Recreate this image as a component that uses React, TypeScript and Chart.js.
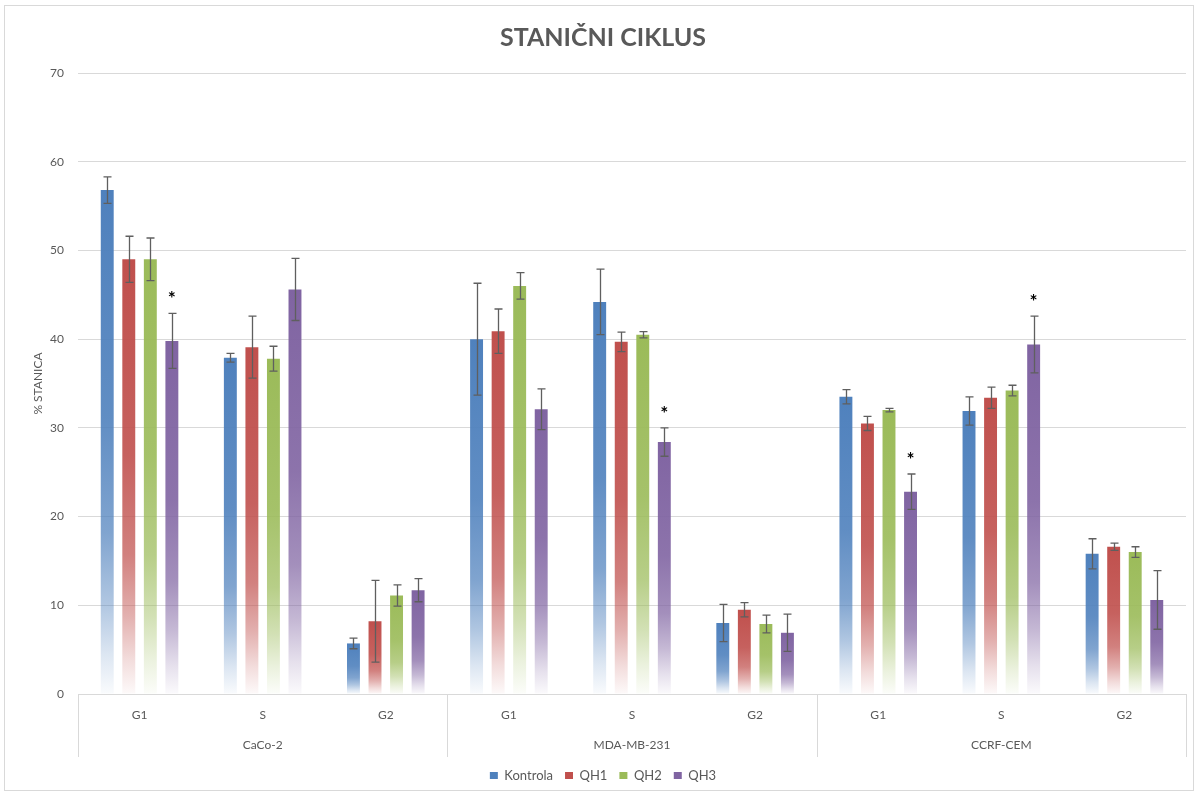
import React, { useEffect, useRef } from "react";
import { Chart, registerables } from "chart.js";

Chart.register(...registerables);

const groups = ["CaCo-2", "MDA-MB-231", "CCRF-CEM"];
const phases = ["G1", "S", "G2", "G1", "S", "G2", "G1", "S", "G2"];
const seriesNames = ["Kontrola", "QH1", "QH2", "QH3"];
const seriesColors = ["#4F81BD", "#C0504D", "#9BBB59", "#8064A2"];

const kontrola = [56.8, 37.9, 5.7, 40.0, 44.2, 8.0, 33.5, 31.9, 15.8];
const kontrolaErr = [1.5, 0.5, 0.6, 6.3, 3.7, 2.1, 0.8, 1.6, 1.7];
const qh1 = [49.0, 39.1, 8.2, 40.9, 39.7, 9.5, 30.5, 33.4, 16.6];
const qh1Err = [2.6, 3.5, 4.6, 2.5, 1.1, 0.8, 0.8, 1.2, 0.4];
const qh2 = [49.0, 37.8, 11.1, 46.0, 40.5, 7.9, 32.0, 34.2, 16.0];
const qh2Err = [2.4, 1.4, 1.2, 1.5, 0.35, 1.0, 0.2, 0.6, 0.6];
const qh3 = [39.8, 45.6, 11.7, 32.1, 28.4, 6.9, 22.8, 39.4, 10.6];
const qh3Err = [3.1, 3.5, 1.3, 2.3, 1.6, 2.1, 2.0, 3.2, 3.3];
const qh3Significant = [true, false, false, false, true, false, true, true, false];

const yTicks = [0, 10, 20, 30, 40, 50, 60, 70];

const values = [kontrola, qh1, qh2, qh3];
const errors = [kontrolaErr, qh1Err, qh2Err, qh3Err];
const significance = [null, null, null, qh3Significant];

const TEXT = "#595959";
const LINE = "#d9d9d9";
const FONT = "Lato, 'Open Sans', sans-serif";

function hexToRgb(hex: string) {
  const n = parseInt(hex.slice(1), 16);
  return [(n >> 16) & 255, (n >> 8) & 255, n & 255];
}

function gradientFill(color: string) {
  const [r, g, b] = hexToRgb(color);
  return (ctx: any) => {
    const chart = ctx.chart;
    const area = chart.chartArea;
    if (!area || ctx.type !== "data") return color;
    const y = chart.scales.y;
    const top = y.getPixelForValue(ctx.raw);
    const bottom = y.getPixelForValue(0);
    if (!isFinite(top) || !isFinite(bottom) || bottom - top < 1) return color;
    const gr = chart.ctx.createLinearGradient(0, top, 0, bottom);
    gr.addColorStop(0, `rgba(${r},${g},${b},1)`);
    gr.addColorStop(0.45, `rgba(${r},${g},${b},0.9)`);
    gr.addColorStop(0.68, `rgba(${r},${g},${b},0.72)`);
    gr.addColorStop(0.82, `rgba(${r},${g},${b},0.45)`);
    gr.addColorStop(0.92, `rgba(${r},${g},${b},0.2)`);
    gr.addColorStop(1, `rgba(${r},${g},${b},0.03)`);
    return gr;
  };
}

const decorPlugin = {
  id: "decor",
  beforeDraw(chart: any) {
    const c = chart.ctx;
    c.save();
    c.fillStyle = "#ffffff";
    c.fillRect(0, 0, chart.width, chart.height);
    c.restore();
  },
  afterDatasetsDraw(chart: any) {
    const c = chart.ctx;
    const y = chart.scales.y;
    c.save();
    chart.data.datasets.forEach((ds: any, di: number) => {
      const meta = chart.getDatasetMeta(di);
      const errs = errors[di];
      const sig = significance[di];
      meta.data.forEach((bar: any, i: number) => {
        const v = ds.data[i];
        const e = errs[i];
        const yTop = y.getPixelForValue(v + e);
        const yBot = y.getPixelForValue(v - e);
        const x = Math.round(bar.x) + 0.5;
        c.strokeStyle = "#5f5f5f";
        c.lineWidth = 1.3;
        c.beginPath();
        c.moveTo(x, yTop);
        c.lineTo(x, yBot);
        c.moveTo(x - 4, yTop);
        c.lineTo(x + 4, yTop);
        c.moveTo(x - 4, yBot);
        c.lineTo(x + 4, yBot);
        c.stroke();
        if (sig && sig[i]) {
          c.fillStyle = "#000000";
          c.font = `bold 19px ${FONT}`;
          c.textAlign = "center";
          c.textBaseline = "alphabetic";
          c.fillText("*", bar.x, yTop - 8);
        }
      });
    });
    c.restore();
  },
  afterDraw(chart: any) {
    const c = chart.ctx;
    const x = chart.scales.x;
    const x2 = chart.scales.x2;
    const area = chart.chartArea;
    const per = phases.length / groups.length;
    c.save();
    c.strokeStyle = LINE;
    c.lineWidth = 1;
    const bounds: number[] = [x.left];
    for (let g = 1; g < groups.length; g++) {
      bounds.push((x.getPixelForValue(g * per - 1) + x.getPixelForValue(g * per)) / 2);
    }
    bounds.push(x.right);
    c.beginPath();
    bounds.forEach((bx) => {
      const px = Math.round(bx) + 0.5;
      c.moveTo(px, area.bottom);
      c.lineTo(px, x2.bottom);
    });
    c.stroke();
    c.strokeRect(4.5, 5.5, chart.width - 9, chart.height - 11);
    c.restore();
  },
};

export default function App() {
  const ref = useRef<HTMLCanvasElement | null>(null);
  useEffect(() => {
    document.body.style.margin = "0";
    if (!ref.current) return;
    const chart = new Chart(ref.current, {
      type: "bar",
      data: {
        labels: phases,
        datasets: seriesNames.map((name, i) => ({
          label: name,
          data: values[i],
          backgroundColor: gradientFill(seriesColors[i]),
          borderWidth: 0,
          categoryPercentage: 0.7,
          barPercentage: 0.6,
        })),
      },
      options: {
        responsive: false,
        animation: false,
        layout: { padding: { left: 20, right: 12, top: 0, bottom: 4 } },
        plugins: {
          tooltip: { enabled: false },
          title: {
            display: true,
            text: "STANIČNI CIKLUS",
            color: TEXT,
            font: { family: FONT, size: 25, weight: "bold" },
            padding: { top: 23, bottom: 20 },
          },
          legend: {
            position: "bottom",
            labels: {
              boxWidth: 8,
              boxHeight: 7,
              padding: 12,
              color: TEXT,
              font: { family: FONT, size: 13 },
              generateLabels: (chart: any) =>
                chart.data.datasets.map((ds: any, i: number) => ({
                  text: ds.label,
                  fillStyle: seriesColors[i],
                  strokeStyle: seriesColors[i],
                  lineWidth: 0,
                  hidden: false,
                  datasetIndex: i,
                  fontColor: TEXT,
                })),
            },
          },
        },
        scales: {
          x: {
            type: "category",
            offset: true,
            grid: { display: false, drawTicks: false },
            border: { display: true, color: LINE, width: 1 },
            ticks: { color: TEXT, font: { family: FONT, size: 12 }, padding: 14, maxRotation: 0, autoSkip: false },
            afterFit: (s: any) => {
              s.height = 36;
            },
          },
          x2: {
            type: "category",
            position: "bottom",
            labels: groups,
            offset: true,
            grid: { display: false, drawTicks: false },
            border: { display: false },
            ticks: { color: TEXT, font: { family: FONT, size: 12 }, padding: 8, maxRotation: 0, autoSkip: false },
            afterFit: (s: any) => {
              s.height = 27;
            },
          },
          y: {
            min: 0,
            max: 70,
            afterBuildTicks: (s: any) => {
              s.ticks = yTicks.map((v) => ({ value: v }));
            },
            grid: { color: LINE, lineWidth: 1, drawTicks: false },
            border: { display: false },
            ticks: { color: TEXT, font: { family: FONT, size: 12 }, padding: 14 },
            title: {
              display: true,
              text: "% STANICA",
              color: TEXT,
              font: { family: FONT, size: 12 },
              padding: { top: 11, bottom: 0 },
            },
            afterFit: (s: any) => {
              s.width = 58;
            },
          },
        },
      },
      plugins: [decorPlugin],
    });
    return () => chart.destroy();
  }, []);
  return (
    <div style={{ width: 1198, height: 796 }}>
      <canvas ref={ref} width={1198} height={796} />
    </div>
  );
}
